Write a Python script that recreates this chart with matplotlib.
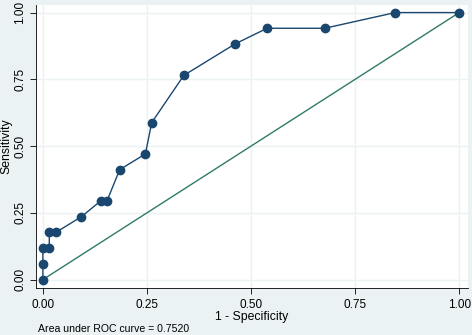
import matplotlib
matplotlib.use("Agg")
import matplotlib.pyplot as plt

# ROC points (1 - specificity, sensitivity)
fpr = [0.0, 0.0, 0.0, 0.0154, 0.0154, 0.0308, 0.0923, 0.1385, 0.1538, 0.1846,
       0.2462, 0.2615, 0.3385, 0.4615, 0.5385, 0.6769, 0.8462, 1.0]
tpr = [0.0, 0.0588, 0.1176, 0.1176, 0.1765, 0.1765, 0.2353, 0.2941, 0.2941, 0.4118,
       0.4706, 0.5882, 0.7647, 0.8824, 0.9412, 0.9412, 1.0, 1.0]
ticks = [0.0, 0.25, 0.5, 0.75, 1.0]
tick_labels = ["0.00", "0.25", "0.50", "0.75", "1.00"]
auc_text = "Area under ROC curve = 0.7520"

bg = "#eaf2f3"
navy = "#1a476f"
green = "#2f7a68"

plt.rcParams['font.family'] = ['Liberation Sans', 'DejaVu Sans']

fig = plt.figure(figsize=(4.72, 3.35), dpi=100, facecolor=bg)
ax = fig.add_axes([0.076, 0.140, 0.916, 0.848])
ax.set_facecolor("white")

ax.plot([0, 1], [0, 1], color=green, lw=1.0, zorder=2)
ax.plot(fpr, tpr, color=navy, lw=1.0, marker="o", markersize=6,
        markeredgecolor=navy, markerfacecolor=navy, zorder=3)

ax.set_xlim(-0.0168, 1.0216)
ax.set_ylim(-0.0318, 1.032)
ax.set_xticks(ticks)
ax.set_xticklabels(tick_labels, fontsize=8.5)
ax.set_yticks(ticks)
ax.set_yticklabels(tick_labels, fontsize=8.5, rotation=90, va="center")
ax.grid(True, color=bg, lw=1.0, zorder=0)
ax.set_axisbelow(True)

for s in ["top", "right"]:
    ax.spines[s].set_color(bg)
ax.spines["left"].set_color("black")
ax.spines["bottom"].set_color("black")
ax.spines["left"].set_linewidth(0.6)
ax.spines["bottom"].set_linewidth(0.6)
ax.tick_params(direction="out", length=4, width=0.6)
ax.tick_params(axis="x", pad=4)
ax.tick_params(axis="y", pad=3)

ax.set_xlabel("1 - Specificity", fontsize=8.8, labelpad=0)
ax.set_ylabel("Sensitivity", fontsize=8.8, labelpad=1)

fig.text(38 / 472, 1 - 329 / 335, auc_text, fontsize=7.6, ha="left", va="center")

fig.savefig("out.png", dpi=100, facecolor=bg)
